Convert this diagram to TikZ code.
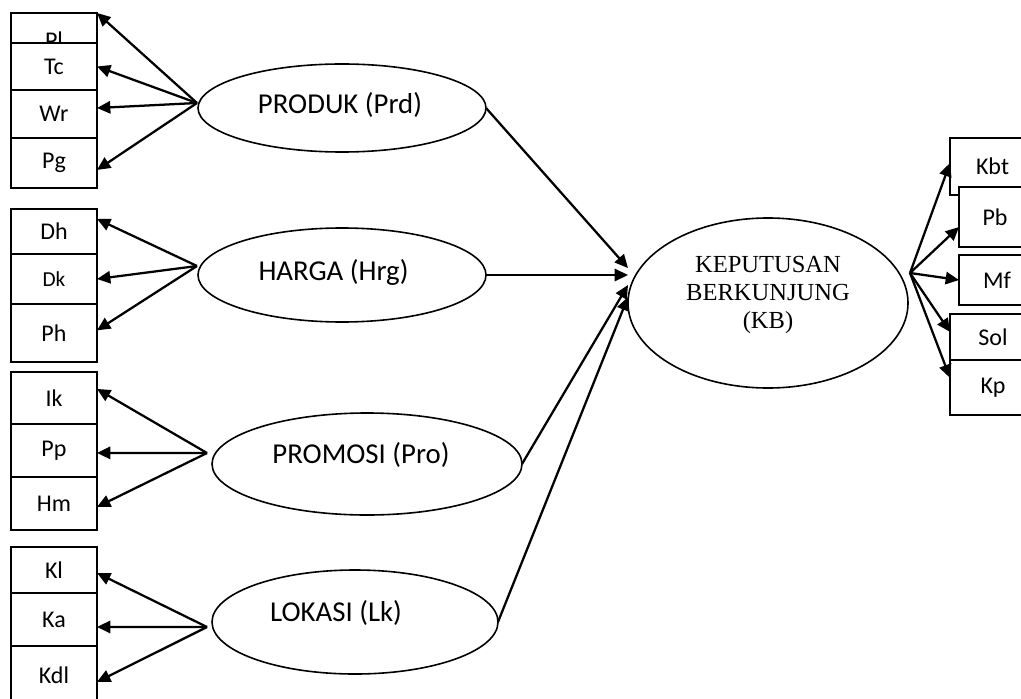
\documentclass[tikz,border=0pt]{standalone}
\usepackage{fontspec}
\setmainfont{Carlito}
\newfontfamily\kbfont{Liberation Serif}
\usetikzlibrary{arrows.meta}
\usetikzlibrary{shapes.geometric}

\begin{document}
\begin{tikzpicture}[x=0.375pt,y=-0.375pt]
\tikzstyle{every node}=[inner sep=0pt,outer sep=0pt]
\tikzstyle{ind}=[draw,fill=white,rectangle,line width=0.75pt,minimum width=32.25pt,font=\fontsize{9}{10.5}\selectfont]
\tikzstyle{var}=[draw,ellipse,line width=0.6pt]
\tikzstyle{vartext}=[font=\fontsize{10.8}{13}\selectfont]
\tikzstyle{load}=[line width=0.85pt,arrows={-Triangle[length=5pt,width=4.6pt]}]
\useasboundingbox (0,0) rectangle (1021,698);
\clip (0,0) rectangle (1021,698);

% indicators of the four variables (left)
\node[ind,minimum height=20.25pt] (pl) at (54,40) {Pl};
\node[ind,minimum height=17.6pt] (tc) at (54,66.5) {Tc};
\node[ind,minimum height=18pt] (wr) at (54,114) {Wr};
\node[ind,minimum height=18.75pt] (pg) at (54,163) {Pg};

\node[ind,minimum height=16.9pt] (dh) at (54,231.5) {Dh};
\node[ind,minimum height=18.75pt,font=\fontsize{8}{9.5}\selectfont] (dk) at (54,279) {Dk};
\node[ind,minimum height=21.75pt] (ph) at (54,333) {Ph};

\node[ind,minimum height=19.5pt] (ik) at (54,398) {Ik};
\node[ind,minimum height=19.9pt] (pp) at (54,450.5) {Pp};
\node[ind,minimum height=19.9pt] (hm) at (54,503.5) {Hm};

\node[ind,minimum height=17.25pt] (kl) at (54,570) {Kl};
\node[ind,minimum height=19.9pt] (ka) at (54,619.5) {Ka};
\node[ind,minimum height=21.75pt] (kdl) at (54,675) {Kdl};

% indicators of KB (right)
\node[ind,minimum width=31.9pt,minimum height=21.4pt] (kbt) at (992.5,166.5) {Kbt};
\node[ind,minimum width=27pt,minimum height=22.5pt] (pb) at (995,217) {Pb};
\node[ind,minimum width=28.5pt,minimum height=18.75pt] (mf) at (997,280) {Mf};
\node[ind,minimum height=17.25pt] (sol) at (993,337) {Sol};
\node[ind,minimum height=20.6pt] (kp) at (993,387.5) {Kp};

% latent variables
\node[var,minimum width=108pt,minimum height=33pt,
  label={[vartext,xshift=-0.75pt,yshift=1.1pt]center:PRODUK (Prd)}] (prd) at (342,108) {};
\node[var,minimum width=108pt,minimum height=35.25pt,
  label={[vartext,xshift=-3.2pt,yshift=1.1pt]center:HARGA (Hrg)}] (hrg) at (342,275) {};
\node[var,minimum width=116.25pt,minimum height=38.25pt,
  label={[vartext,xshift=-2.25pt,yshift=3.4pt]center:PROMOSI (Pro)}] (pro) at (367,464) {};
\node[var,minimum width=107.25pt,minimum height=39pt,
  label={[vartext,xshift=-7.1pt,yshift=3.4pt]center:LOKASI (Lk)}] (lk) at (355,622) {};
\node[var,minimum width=105pt,minimum height=63.75pt,
  label={[align=center,font=\kbfont\fontsize{9.2}{10.6}\selectfont,yshift=3pt]center:KEPUTUSAN\\BERKUNJUNG\\(KB)}] (kb) at (768,303) {};

% fan points
\coordinate (prd-o) at (197,103);
\coordinate (hrg-o) at (197,266);
\coordinate (pro-o) at (207,453);
\coordinate (lk-o) at (207,627);
\coordinate (kb-o) at (910,273);

\foreach \b/\s in {pl.north east/0pt, tc.east/0pt, wr.east/2.25pt, pg.east/-2.6pt}
  \path[load] (prd-o) edge ([yshift=\s]\b);
\foreach \b/\s in {dh.east/4.7pt, dk.east/0pt, ph.east/1pt}
  \path[load] (hrg-o) edge ([yshift=\s]\b);
\foreach \b/\s in {ik.east/3.4pt, pp.east/-0.9pt, hm.east/-1.3pt}
  \path[load] (pro-o) edge ([yshift=\s]\b);
\foreach \b/\s in {kl.east/-1.1pt, ka.east/-2.8pt, kdl.east/-2.6pt}
  \path[load] (lk-o) edge ([yshift=\s]\b);
\foreach \b/\s in {kbt.west/1.3pt, pb.west/-3.75pt, mf.west/0pt, sol.west/1.9pt, kp.west/3.6pt}
  \path[load] (kb-o) edge ([yshift=\s]\b);

% paths into KB
\path[load] (prd.east) edge ([yshift=13.1pt]kb.west);
\path[load] (hrg.east) edge (hrg.east -| kb.west);
\path[load] (pro.east) edge ([yshift=6.75pt]kb.west);
\path[load] (lk.east) edge ([yshift=2.25pt]kb.west);
\end{tikzpicture}
\end{document}
